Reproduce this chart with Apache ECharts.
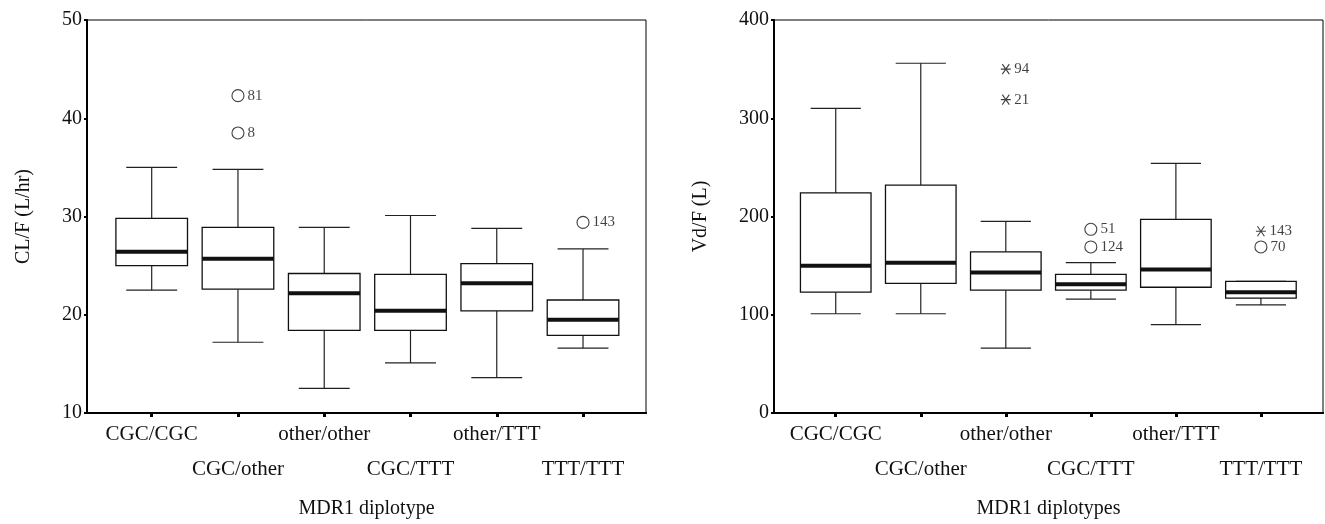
<!DOCTYPE html>
<html>
<head>
<meta charset="utf-8">
<script src="https://cdn.jsdelivr.net/npm/echarts@6/dist/echarts.min.js"></script>
<style>
html,body{margin:0;padding:0;background:#fff}
#chart{width:1325px;height:524px}
</style>
</head>
<body>
<div id="chart"></div>
<script>
var categories = ['CGC/CGC', 'CGC/other', 'other/other', 'CGC/TTT', 'other/TTT', 'TTT/TTT'];

// left panel: CL/F (L/hr)
var clLow    = [22.5, 17.2, 12.5, 15.1, 13.6, 16.6];
var clQ1     = [25.0, 22.6, 18.4, 18.4, 20.4, 17.9];
var clMedian = [26.4, 25.7, 22.2, 20.4, 23.2, 19.5];
var clQ3     = [29.8, 28.9, 24.2, 24.1, 25.2, 21.5];
var clHigh   = [35.0, 34.8, 28.9, 30.1, 28.8, 26.7];
var clOutX   = [2, 2, 6];
var clOutY   = [42.3, 38.5, 29.4];
var clOutId  = ['81', '8', '143'];

// right panel: Vd/F (L)
var vdLow    = [101, 101, 66, 116, 90, 110];
var vdQ1     = [123, 132, 125, 125, 128, 117];
var vdMedian = [150, 153, 143, 131, 146, 123];
var vdQ3     = [224, 232, 164, 141, 197, 134];
var vdHigh   = [310, 356, 195, 153, 254, 134];
var vdOutX   = [4, 4, 6];
var vdOutY   = [187, 169, 169];
var vdOutId  = ['51', '124', '70'];
var vdExtX   = [3, 3, 6];
var vdExtY   = [350, 319, 185];
var vdExtId  = ['94', '21', '143'];

var font = 'Liberation Serif';
var starPath = 'path://M0,5L10,5M1.5,1.5L8.5,8.5M1.5,8.5L8.5,1.5';
var oddPos = [1, 3, 5];
var evenPos = [2, 4, 6];

function boxRows(low, q1, med, q3, high) {
  return categories.map(function (c, i) {
    return [i + 1, low[i], q1[i], med[i], q3[i], high[i]];
  });
}
function pointRows(xs, ys, ids) {
  return xs.map(function (x, i) { return [x, ys[i], ids[i]]; });
}

function renderBox(params, api) {
  var x = api.value(0);
  var low = api.coord([x, api.value(1)]);
  var q1 = api.coord([x, api.value(2)]);
  var med = api.coord([x, api.value(3)]);
  var q3 = api.coord([x, api.value(4)]);
  var high = api.coord([x, api.value(5)]);
  var unit = api.size([1, 0])[0];
  var bw = unit * 0.83, cw = unit * 0.59;
  var cx = low[0];
  var ln = { stroke: '#222', lineWidth: 1.2 };
  return {
    type: 'group',
    children: [
      { type: 'line', shape: { x1: cx, y1: high[1], x2: cx, y2: q3[1] }, style: ln },
      { type: 'line', shape: { x1: cx, y1: q1[1], x2: cx, y2: low[1] }, style: ln },
      { type: 'line', shape: { x1: cx - cw / 2, y1: high[1], x2: cx + cw / 2, y2: high[1] }, style: ln },
      { type: 'line', shape: { x1: cx - cw / 2, y1: low[1], x2: cx + cw / 2, y2: low[1] }, style: ln },
      { type: 'rect', shape: { x: cx - bw / 2, y: q3[1], width: bw, height: q1[1] - q3[1] },
        style: { fill: '#fff', stroke: '#111', lineWidth: 1.3 } },
      { type: 'line', shape: { x1: cx - bw / 2, y1: med[1], x2: cx + bw / 2, y2: med[1] },
        style: { stroke: '#111', lineWidth: 4 } }
    ]
  };
}

function catLabel(v) {
  return categories[Math.round(v) - 1];
}

// main x axis: line, ticks on odd positions, odd labels (first row)
function xAxisMain(idx, min, max, name) {
  return {
    gridIndex: idx,
    type: 'value',
    position: 'bottom',
    min: min,
    max: max,
    name: name,
    nameLocation: 'middle',
    nameGap: 86,
    nameTextStyle: { fontFamily: font, fontSize: 20, color: '#111' },
    axisLine: { lineStyle: { color: '#000', width: 2 } },
    axisTick: { customValues: oddPos, length: 4, lineStyle: { color: '#000', width: 3 } },
    axisLabel: {
      customValues: oddPos,
      showMinLabel: true,
      showMaxLabel: true,
      margin: 11,
      fontFamily: font,
      fontSize: 21,
      color: '#111',
      formatter: catLabel
    },
    splitLine: { show: false }
  };
}

// second x axis on the same line: ticks on even positions, even labels (second row)
function xAxisSecond(idx, min, max) {
  return {
    gridIndex: idx,
    type: 'value',
    position: 'bottom',
    offset: 0,
    min: min,
    max: max,
    axisLine: { show: true, lineStyle: { color: '#000', width: 2 } },
    axisTick: { show: true, customValues: evenPos, length: 4, lineStyle: { color: '#000', width: 3 } },
    axisLabel: {
      customValues: evenPos,
      showMinLabel: true,
      showMaxLabel: true,
      margin: 46,
      fontFamily: font,
      fontSize: 21,
      color: '#111',
      formatter: catLabel
    },
    splitLine: { show: false }
  };
}

function yAxisFor(idx, min, max, interval, name, gap) {
  return {
    gridIndex: idx,
    type: 'value',
    min: min,
    max: max,
    interval: interval,
    name: name,
    nameLocation: 'middle',
    nameGap: gap,
    nameTextStyle: { fontFamily: font, fontSize: 20, color: '#111' },
    axisLine: { show: true, lineStyle: { color: '#000', width: 2 } },
    axisTick: { show: true, length: 3, lineStyle: { color: '#000', width: 2 } },
    axisLabel: { margin: 5, fontFamily: font, fontSize: 20, color: '#111', showMinLabel: true, showMaxLabel: true },
    splitLine: { show: false }
  };
}

function outlierSeries(idx, data, symbol, size) {
  return {
    type: 'scatter',
    xAxisIndex: idx,
    yAxisIndex: idx,
    data: data,
    symbol: symbol,
    symbolSize: size,
    itemStyle: { color: 'transparent', borderColor: '#111', borderWidth: 1.1 },
    label: {
      show: true,
      position: 'right',
      distance: 3,
      fontFamily: font,
      fontSize: 15,
      color: '#111',
      formatter: function (p) { return p.value[2]; }
    },
    z: 5
  };
}

var chart = echarts.init(document.getElementById('chart'));
chart.setOption({
  animation: false,
  grid: [
    { left: 87, top: 20, right: 679, bottom: 111, show: true, borderColor: '#000', borderWidth: 1 },
    { left: 774, top: 20, right: 2, bottom: 111, show: true, borderColor: '#000', borderWidth: 1 }
  ],
  xAxis: [
    xAxisMain(0, 0.25, 6.73, 'MDR1 diplotype'),
    xAxisMain(1, 0.274, 6.73, 'MDR1 diplotypes'),
    xAxisSecond(0, 0.25, 6.73),
    xAxisSecond(1, 0.274, 6.73)
  ],
  yAxis: [
    yAxisFor(0, 10, 50, 10, 'CL/F (L/hr)', 53),
    yAxisFor(1, 0, 400, 100, 'Vd/F (L)', 63)
  ],
  series: [
    {
      type: 'custom',
      xAxisIndex: 0,
      yAxisIndex: 0,
      renderItem: renderBox,
      encode: { x: 0, y: [1, 2, 3, 4, 5] },
      data: boxRows(clLow, clQ1, clMedian, clQ3, clHigh)
    },
    {
      type: 'custom',
      xAxisIndex: 1,
      yAxisIndex: 1,
      renderItem: renderBox,
      encode: { x: 0, y: [1, 2, 3, 4, 5] },
      data: boxRows(vdLow, vdQ1, vdMedian, vdQ3, vdHigh)
    },
    outlierSeries(0, pointRows(clOutX, clOutY, clOutId), 'circle', 12),
    outlierSeries(1, pointRows(vdOutX, vdOutY, vdOutId), 'circle', 12),
    outlierSeries(1, pointRows(vdExtX, vdExtY, vdExtId), starPath, 10)
  ]
});
</script>
</body>
</html>
